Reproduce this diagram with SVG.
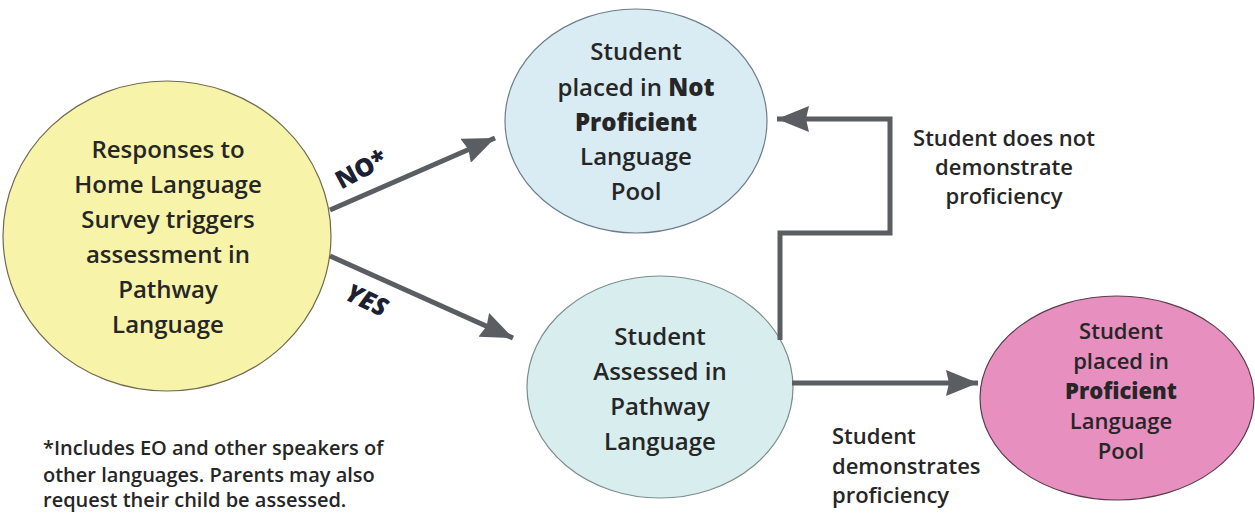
<svg xmlns="http://www.w3.org/2000/svg" width="1255" height="514" viewBox="0 0 1255 514">
<style>
.t{font-family:"Open Sans","Liberation Sans",sans-serif;font-weight:600;fill:#262626;text-anchor:middle}
.n{font-size:24px}
.p{font-size:22px}
.lbl{font-size:22px}
.conn{stroke:#5a5d62;stroke-width:5;fill:none}
.big{font-family:"Open Sans","Liberation Sans",sans-serif;font-weight:800;font-size:25px;fill:#1b2033;text-anchor:middle}
</style>
<defs>
<marker id="ah" markerUnits="userSpaceOnUse" markerWidth="34" markerHeight="26" refX="32" refY="13" orient="auto">
<path d="M0,0 L32,13 L0,26 L3,13 Z" fill="#5a5d62"/>
</marker>
</defs>
<rect width="1255" height="514" fill="#ffffff"/>
<g id="node-survey">
<ellipse cx="167" cy="236" rx="164" ry="155" fill="#f7f3a8" stroke="#6e6c50" stroke-width="1.2"/>
<text class="t n"><tspan x="168" y="158">Responses to</tspan><tspan x="168" y="193">Home Language</tspan><tspan x="168" y="228">Survey triggers</tspan><tspan x="168" y="263">assessment in</tspan><tspan x="168" y="298">Pathway</tspan><tspan x="168" y="333">Language</tspan></text>
</g>
<g id="node-notprof">
<ellipse cx="636" cy="121" rx="131" ry="112" fill="#d9ecf4" stroke="#6c7d88" stroke-width="1.2"/>
<text class="t n"><tspan x="636" y="60">Student</tspan><tspan x="636" y="96">placed in <tspan font-weight="800">Not</tspan></tspan><tspan x="636" y="131" font-weight="800">Proficient</tspan><tspan x="636" y="165">Language</tspan><tspan x="636" y="200">Pool</tspan></text>
</g>
<g id="node-assessed">
<ellipse cx="660" cy="387" rx="133" ry="111" fill="#d8eeee" stroke="#7d8d8d" stroke-width="1.2"/>
<text class="t n"><tspan x="660" y="345">Student</tspan><tspan x="660" y="380">Assessed in</tspan><tspan x="660" y="415">Pathway</tspan><tspan x="660" y="450">Language</tspan></text>
</g>
<g id="node-prof">
<ellipse cx="1117" cy="398" rx="137" ry="102" fill="#e790c0" stroke="#5a3d4b" stroke-width="1.2"/>
<text class="t p"><tspan x="1121" y="339">Student</tspan><tspan x="1121" y="369">placed in</tspan><tspan x="1121" y="399" font-weight="800">Proficient</tspan><tspan x="1121" y="429">Language</tspan><tspan x="1121" y="459">Pool</tspan></text>
</g>
<g id="connectors">
<line class="conn" x1="330" y1="210" x2="495" y2="138" marker-end="url(#ah)"/>
<line class="conn" x1="330" y1="256" x2="513" y2="338" marker-end="url(#ah)"/>
<polyline class="conn" points="780,340 780,233 890,233 890,119 777,119" marker-end="url(#ah)"/>
<line class="conn" x1="792" y1="383" x2="978" y2="383" marker-end="url(#ah)"/>
<text class="big" transform="translate(361,169) rotate(-28)" y="9">NO*</text>
<text class="big" font-style="italic" transform="translate(367,300) rotate(25)" y="9">YES</text>
<text class="t lbl"><tspan x="1004" y="146">Student does not</tspan><tspan x="1004" y="175">demonstrate</tspan><tspan x="1004" y="204">proficiency</tspan></text>
<text class="t lbl" style="text-anchor:start"><tspan x="832" y="444">Student</tspan><tspan x="832" y="474">demonstrates</tspan><tspan x="832" y="503">proficiency</tspan></text>
</g>
<text class="t" style="text-anchor:start;font-size:20px"><tspan x="43" y="455">*Includes EO and other speakers of</tspan><tspan x="43" y="482">other languages. Parents may also</tspan><tspan x="43" y="507">request their child be assessed.</tspan></text>
</svg>
